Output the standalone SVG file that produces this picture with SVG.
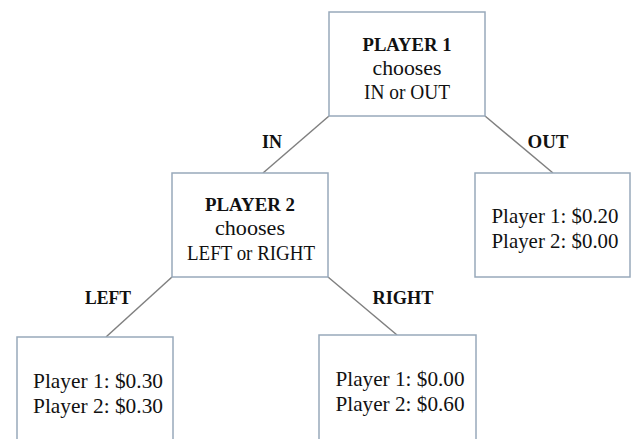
<svg xmlns="http://www.w3.org/2000/svg" width="632" height="439" viewBox="0 0 632 439">
<style>
.box{fill:#ffffff;stroke:#98a9bb;stroke-width:1.5}
.edge{stroke:#808080;stroke-width:1.5;fill:none}
text{font-family:"Liberation Serif","Times New Roman",serif;font-size:21px;fill:#111;text-anchor:middle}
.b{font-weight:bold;font-size:19px}
.lbl{font-weight:bold;font-size:19px}
</style>
<rect width="632" height="439" fill="#ffffff"/>
<g id="connectors">
<line class="edge" x1="329" y1="116" x2="263" y2="173"/>
<line class="edge" x1="485" y1="116" x2="553" y2="173"/>
<line class="edge" x1="172" y1="277" x2="106" y2="337"/>
<line class="edge" x1="328" y1="277" x2="397" y2="335"/>
<text class="lbl" x="272" y="148" textLength="20" lengthAdjust="spacingAndGlyphs">IN</text>
<text class="lbl" x="548" y="148" textLength="41" lengthAdjust="spacingAndGlyphs">OUT</text>
<text class="lbl" x="108" y="304" textLength="46" lengthAdjust="spacingAndGlyphs">LEFT</text>
<text class="lbl" x="403" y="304" textLength="61" lengthAdjust="spacingAndGlyphs">RIGHT</text>
</g>
<g id="player1">
<rect class="box" x="329" y="12" width="156" height="104"/>
<text class="b" x="407" y="51" textLength="89" lengthAdjust="spacingAndGlyphs">PLAYER 1</text>
<text x="407" y="75" textLength="69" lengthAdjust="spacingAndGlyphs">chooses</text>
<text x="407" y="99" textLength="86" lengthAdjust="spacingAndGlyphs">IN or OUT</text>
</g>
<g id="player2">
<rect class="box" x="172" y="173" width="156" height="104"/>
<text class="b" x="250" y="211" textLength="90" lengthAdjust="spacingAndGlyphs">PLAYER 2</text>
<text x="250" y="235" textLength="70" lengthAdjust="spacingAndGlyphs">chooses</text>
<text x="251" y="260" textLength="128" lengthAdjust="spacingAndGlyphs">LEFT or RIGHT</text>
</g>
<g id="out">
<rect class="box" x="475" y="173" width="155" height="104"/>
<text x="555" y="223" textLength="127" lengthAdjust="spacingAndGlyphs">Player 1: $0.20</text>
<text x="555" y="248" textLength="127" lengthAdjust="spacingAndGlyphs">Player 2: $0.00</text>
</g>
<g id="left">
<rect class="box" x="17" y="337" width="156" height="110"/>
<text x="98" y="388" textLength="130" lengthAdjust="spacingAndGlyphs">Player 1: $0.30</text>
<text x="98" y="413" textLength="130" lengthAdjust="spacingAndGlyphs">Player 2: $0.30</text>
</g>
<g id="right">
<rect class="box" x="319" y="335" width="157" height="112"/>
<text x="400" y="386" textLength="129" lengthAdjust="spacingAndGlyphs">Player 1: $0.00</text>
<text x="400" y="411" textLength="129" lengthAdjust="spacingAndGlyphs">Player 2: $0.60</text>
</g>
</svg>
